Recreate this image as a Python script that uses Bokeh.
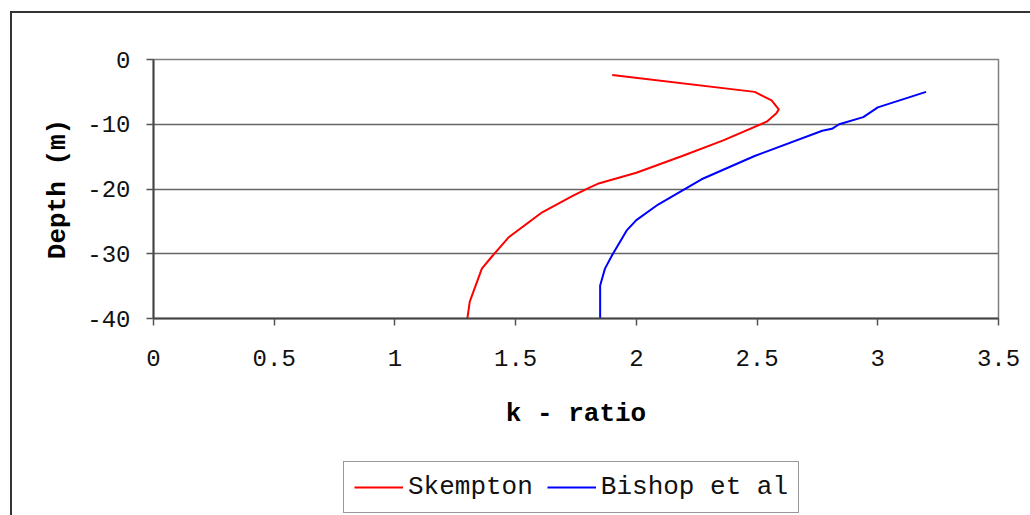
from bokeh.plotting import figure
from bokeh.layouts import column
from bokeh.models import (Range1d, FixedTicker, Legend, LegendItem)
from bokeh.embed import file_html
from bokeh.resources import INLINE

# ---- data ----
skempton_k = [1.90, 2.49, 2.56, 2.59, 2.58, 2.54, 2.36, 2.19, 2.00, 1.84, 1.81,
              1.74, 1.61, 1.47, 1.40, 1.36, 1.31, 1.30]
skempton_depth = [-2.4, -5.0, -6.3, -7.7, -8.3, -9.6, -12.5, -14.9, -17.5, -19.2, -19.7,
                  -21.0, -23.6, -27.5, -30.5, -32.3, -37.4, -40.0]

bishop_k = [3.20, 3.00, 2.94, 2.84, 2.81, 2.77, 2.49, 2.27, 2.09, 2.00, 1.96,
            1.90, 1.87, 1.85, 1.85]
bishop_depth = [-5.0, -7.4, -8.9, -10.0, -10.7, -11.0, -14.9, -18.5, -22.4, -24.8, -26.4,
                -30.2, -32.3, -34.9, -40.0]

x_ticks = [0, 0.5, 1, 1.5, 2, 2.5, 3, 3.5]
x_tick_labels = ["0", "0.5", "1", "1.5", "2", "2.5", "3", "3.5"]
y_ticks = [0, -10, -20, -30, -40]
y_tick_labels = ["0", "-10", "-20", "-30", "-40"]

series_names = ["Skempton", "Bishop et al"]
series_colors = ["#FF0000", "#0000FF"]

FONT = "Liberation Mono"

# ---------------- main chart ----------------
p = figure(width=1030, height=460, output_backend="svg", toolbar_location=None,
           x_range=Range1d(0, 3.5), y_range=Range1d(-40, 0),
           min_border_left=153, min_border_right=32, min_border_top=59,
           min_border_bottom=142)

p.background_fill_color = "white"
p.border_fill_alpha = 0
p.outline_line_color = "#808080"
p.outline_line_width = 1.5

xa = p.xaxis[0]
ya = p.yaxis[0]
xa.ticker = FixedTicker(ticks=x_ticks)
ya.ticker = FixedTicker(ticks=y_ticks)
xa.major_label_overrides = {t: l for t, l in zip(x_ticks, x_tick_labels)}
ya.major_label_overrides = {t: l for t, l in zip(y_ticks, y_tick_labels)}
for ax in (xa, ya):
    ax.minor_tick_line_color = None
    ax.major_tick_in = 0
    ax.major_tick_out = 7
    ax.major_tick_line_color = "#555555"
    ax.major_tick_line_width = 1.5
    ax.axis_line_color = "#444444"
    ax.axis_line_width = 2
    ax.major_label_text_font = FONT
    ax.major_label_text_font_size = "24px"
    ax.major_label_text_color = "#111111"
    ax.axis_label_text_font = FONT
    ax.axis_label_text_font_size = "26px"
    ax.axis_label_text_font_style = "bold"
    ax.axis_label_text_color = "#000000"

xa.axis_label = "k - ratio"
ya.axis_label = "Depth (m)"
xa.major_label_standoff = 24
ya.major_label_standoff = 16
xa.axis_label_standoff = 30
ya.axis_label_standoff = 11

p.xgrid.grid_line_color = None
p.ygrid.ticker = FixedTicker(ticks=y_ticks)
p.ygrid.grid_line_color = "#666666"
p.ygrid.grid_line_width = 1.5

p.line(skempton_k, skempton_depth, line_color=series_colors[0], line_width=2)
p.line(bishop_k, bishop_depth, line_color=series_colors[1], line_width=2)

# ---------------- legend strip (frame aligned with the chart above) ----------------
pl = figure(width=1030, height=55, output_backend="svg", toolbar_location=None,
            x_range=Range1d(0, 1), y_range=Range1d(0, 1),
            x_axis_type=None, y_axis_type=None, min_border=0)
pl.background_fill_alpha = 0
pl.border_fill_alpha = 0
pl.outline_line_color = None
pl.grid.grid_line_color = None

nan = float("nan")
items = []
for name, col in zip(series_names, series_colors):
    # legend swatch only: a line with no drawable point
    r = pl.line(x=[nan], y=[nan], line_color=col, line_width=2)
    items.append(LegendItem(label=name, renderers=[r]))

legend = Legend(items=items, orientation="horizontal", location=(190, 2))
legend.label_text_font = FONT
legend.label_text_font_size = "26px"
legend.label_text_color = "#111111"
legend.border_line_color = "#333333"
legend.border_line_width = 1.5
legend.background_fill_color = "white"
legend.background_fill_alpha = 1
legend.glyph_width = 49
legend.glyph_height = 20
legend.label_standoff = 5
legend.padding = 10
legend.spacing = 14
legend.margin = 0
pl.add_layout(legend, "center")

layout = column(p, pl, spacing=0)
# outer chart border (top and left edges visible in the reference)
layout.styles = {
    "background": ("linear-gradient(#333333,#333333) 10px 11px / 1200px 2px no-repeat, "
                   "linear-gradient(#333333,#333333) 10px 11px / 2px 1200px no-repeat"),
}

open("out.html", "w").write(file_html(layout, INLINE))
